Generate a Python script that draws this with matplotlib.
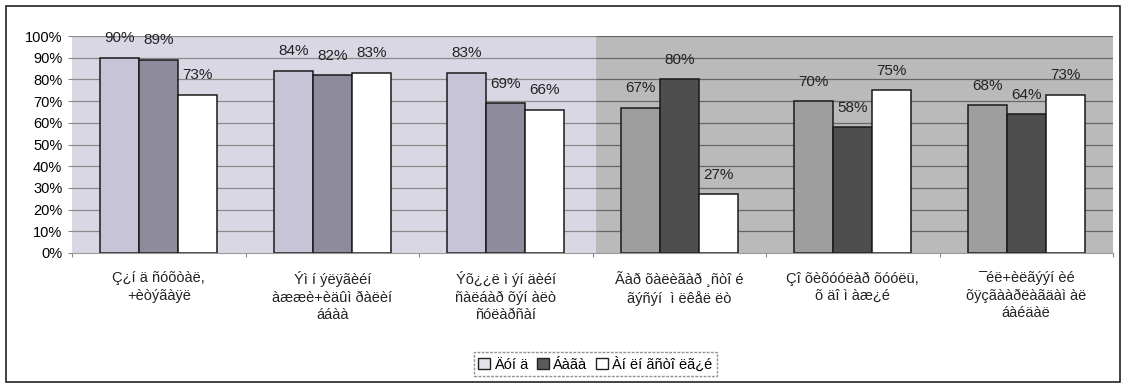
import numpy as np
import matplotlib.pyplot as plt
from matplotlib.patches import Patch, Rectangle

plt.rcParams['font.family'] = ['Liberation Sans', 'DejaVu Sans']

# survey groups (text as printed, cp1251 shown as latin-1)
categories = [
    'Ç¿í ä ñóõòàë,\n+èòýãàÿë',
    'Ýì í ýëÿãèéí\nàææè+èäûì ðàëèí\nááàà',
    'Ýõ¿¿ë ì ýí äèéí\nñàëáàð õýí àëò\nñóëàðñàí',
    'Ãàð õàëèãàð ¸ñòî é\nãýñýí  ì ëêåë ëò',
    'Çî õèõóóëàð õóóëü,\nõ äî ì àæ¿é',
    '¯éë+èëãýýí èé\nõÿçãààðëàãäàì àë\náàéäàë',
]
series_names = ['Äóí ä', 'Áàãà', 'Àí ëí ãñòî ëã¿é']
s1 = [90, 84, 83, 67, 70, 68]
s2 = [89, 82, 69, 80, 58, 64]
s3 = [73, 83, 66, 27, 75, 73]

fig = plt.figure(figsize=(11.26, 3.87), dpi=100)
W, H = 1126, 387
ax = fig.add_axes([72 / W, 1 - 253 / H, (1113 - 72) / W, (253 - 36) / H])

# outer frame
fig.patches.append(Rectangle((6 / W, 5 / H), 1114 / W, 376 / H, transform=fig.transFigure,
                             fill=False, edgecolor='#222222', lw=1.2))

x = np.arange(len(categories))
bw = 0.225
split = 2.52
levels = np.arange(0, 101, 10)

# two shaded backgrounds, each with its own grid
ax.axvspan(-0.5, split, color='#d9d7e4', zorder=0, lw=0)
ax.axvspan(split, 5.5, color='#bababa', zorder=0, lw=0)
ax.hlines(levels[1:], -0.5, split, colors='#8a8a8a', lw=0.9, zorder=1)
ax.hlines(levels[1:], split, 5.5, colors='#666666', lw=0.9, zorder=1)

ax.set_xlim(-0.5, 5.5)
ax.set_ylim(0, 100)
ax.set_yticks(levels)
ax.set_yticklabels([f'{v}%' for v in levels], fontsize=10.5)
ax.tick_params(axis='y', length=3, color='#888888', pad=4)

left = x < split
fills = [
    np.where(left, '#c6c4d6', '#9e9e9e'),
    np.where(left, '#8e8b9c', '#4e4e4e'),
    ['white'] * len(x),
]
for k, vals in enumerate([s1, s2, s3]):
    pos = x + (k - 1) * bw
    bars = ax.bar(pos, vals, bw, color=fills[k], edgecolor='#1a1a1a', lw=1.1, zorder=2)
    for b, v in zip(bars, vals):
        ax.annotate(f'{v}%', (b.get_x() + b.get_width() / 2, v), xytext=(0, 9),
                    textcoords='offset points', ha='center', va='bottom',
                    fontsize=11, color='#222222')

ax.set_xticks(np.arange(-0.5, 5.6, 1))
ax.set_xticklabels([])
ax.tick_params(axis='x', length=3, color='#888888')
for xi, lab in zip(x, categories):
    ax.text(xi, -8.5, lab, ha='center', va='top', fontsize=10.5, color='#222222',
            transform=ax.transData, linespacing=1.3, clip_on=False)

for side in ['top', 'right', 'left']:
    ax.spines[side].set_visible(False)
ax.spines['bottom'].set_color('#999999')

handles = [Patch(facecolor='#e4e3ea', edgecolor='#222222'),
           Patch(facecolor='#5a5a5a', edgecolor='#222222'),
           Patch(facecolor='white', edgecolor='#222222')]
leg = fig.legend(handles, series_names, loc='center', bbox_to_anchor=(595 / W, 1 - 364 / H),
                 ncol=3, fontsize=10.5, frameon=True, fancybox=False, handlelength=0.8,
                 handleheight=0.8, handletextpad=0.3, columnspacing=0.6, borderpad=0.3)
leg.get_frame().set_edgecolor('#777777')
leg.get_frame().set_linestyle((0, (2, 1)))

plt.savefig('out.png', dpi=100)
